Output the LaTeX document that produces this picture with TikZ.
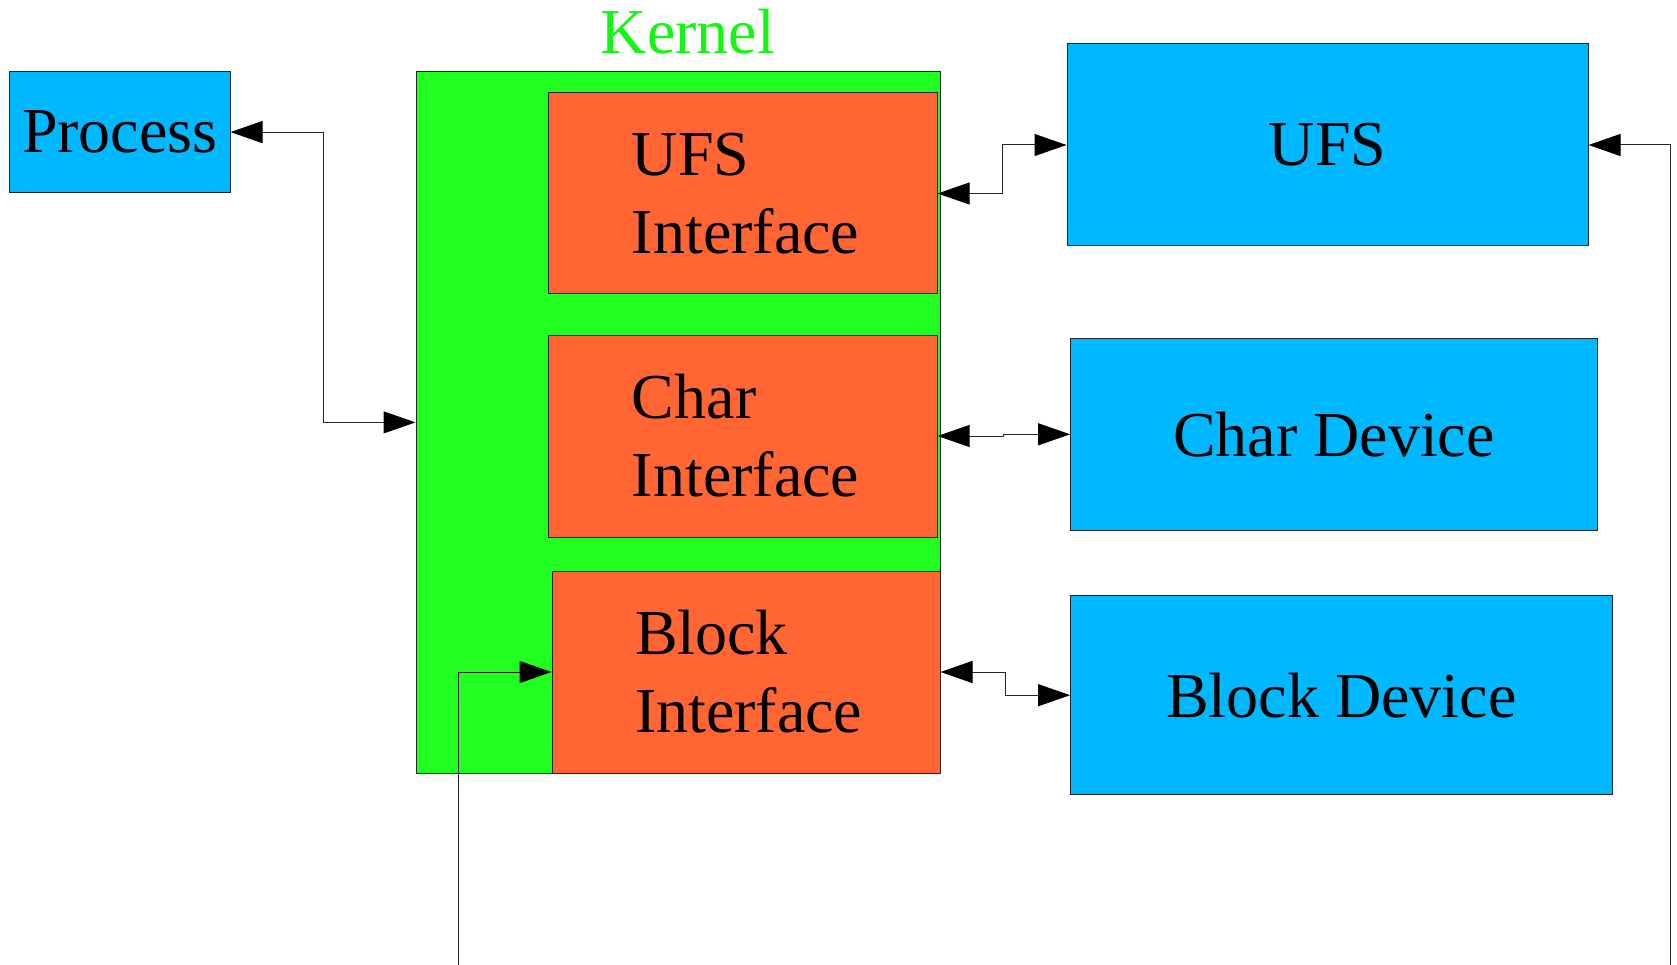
\documentclass[tikz,border=0pt]{standalone}
\usepackage{fontspec}
\setmainfont{Liberation Serif}
\usetikzlibrary{arrows.meta,calc}

\definecolor{devblue}{RGB}{0,184,255}
\definecolor{kerngreen}{RGB}{32,255,32}
\definecolor{ifaceorange}{RGB}{255,102,51}
\definecolor{kernlabel}{RGB}{20,245,20}

\tikzset{
  box/.style={draw=black!85, line width=1pt, inner sep=0pt, font=\fontsize{64}{78}\selectfont},
  devbox/.style={box, fill=devblue},
  kernbox/.style={box, fill=kerngreen},
  ifacebox/.style={box, fill=ifaceorange, text width=222pt, align=left},
  link/.style={line width=1pt, draw=black!85, arrows={-Triangle[length=32pt,width=22pt,black]}},
  biarrow/.style={link, arrows={Triangle[length=32pt,width=22pt,black]-Triangle[length=32pt,width=22pt,black]}}
}

\begin{document}
\begin{tikzpicture}[x=1pt,y=-1pt]
  \useasboundingbox (0,0) rectangle (1677,965);

  % process and kernel
  \node[devbox, minimum width=220.4pt, minimum height=120.8pt] (process) at (119.8,132.1) {Process};
  \node[kernbox, minimum width=524pt, minimum height=701.3pt] (kernel) at (678,422.4) {};
  \node[font=\fontsize{64}{70}\selectfont, text=kernlabel, anchor=base, inner sep=0pt] (kernlbl) at (688,53.5) {Kernel};

  % kernel interfaces
  \node[ifacebox, minimum width=388.3pt, minimum height=201pt] (ufsif) at (742.9,193.5) {UFS\\Interface};
  \node[ifacebox, minimum width=388.3pt, minimum height=202pt] (charif) at (742.9,436) {Char\\Interface};
  \node[ifacebox, minimum width=388pt, minimum height=202pt] (blockif) at (746,672) {Block\\Interface};

  % devices
  \node[devbox, minimum width=521pt, minimum height=202pt] (ufs) at (1327.5,145) {UFS};
  \node[devbox, minimum width=526.4pt, minimum height=192.5pt] (chardev) at (1333.8,434.3) {Char Device};
  \node[devbox, minimum width=541.4pt, minimum height=199pt] (blockdev) at (1341.3,695.2) {Block Device};

  % incoming lines from below
  \coordinate (ufsfeed) at (1670,966);
  \coordinate (blockfeed) at (458,966);

  % connectors
  \draw[biarrow] (process.east) -- ++(93,0) |- (kernel.west);
  \draw[biarrow] (ufsif.east) -| ($(ufsif.east)!.5!(ufs.west)$) |- (ufs.west);
  \draw[biarrow] (charif.east) -| ($(charif.east)!.5!(chardev.west)$) |- (chardev.west);
  \draw[biarrow] (blockif.east) -| ($(blockif.east)!.5!(blockdev.west)$) |- (blockdev.west);
  \draw[link] (ufsfeed) |- (ufs.east);
  \draw[link] (blockfeed) |- (blockif.west);
\end{tikzpicture}
\end{document}
